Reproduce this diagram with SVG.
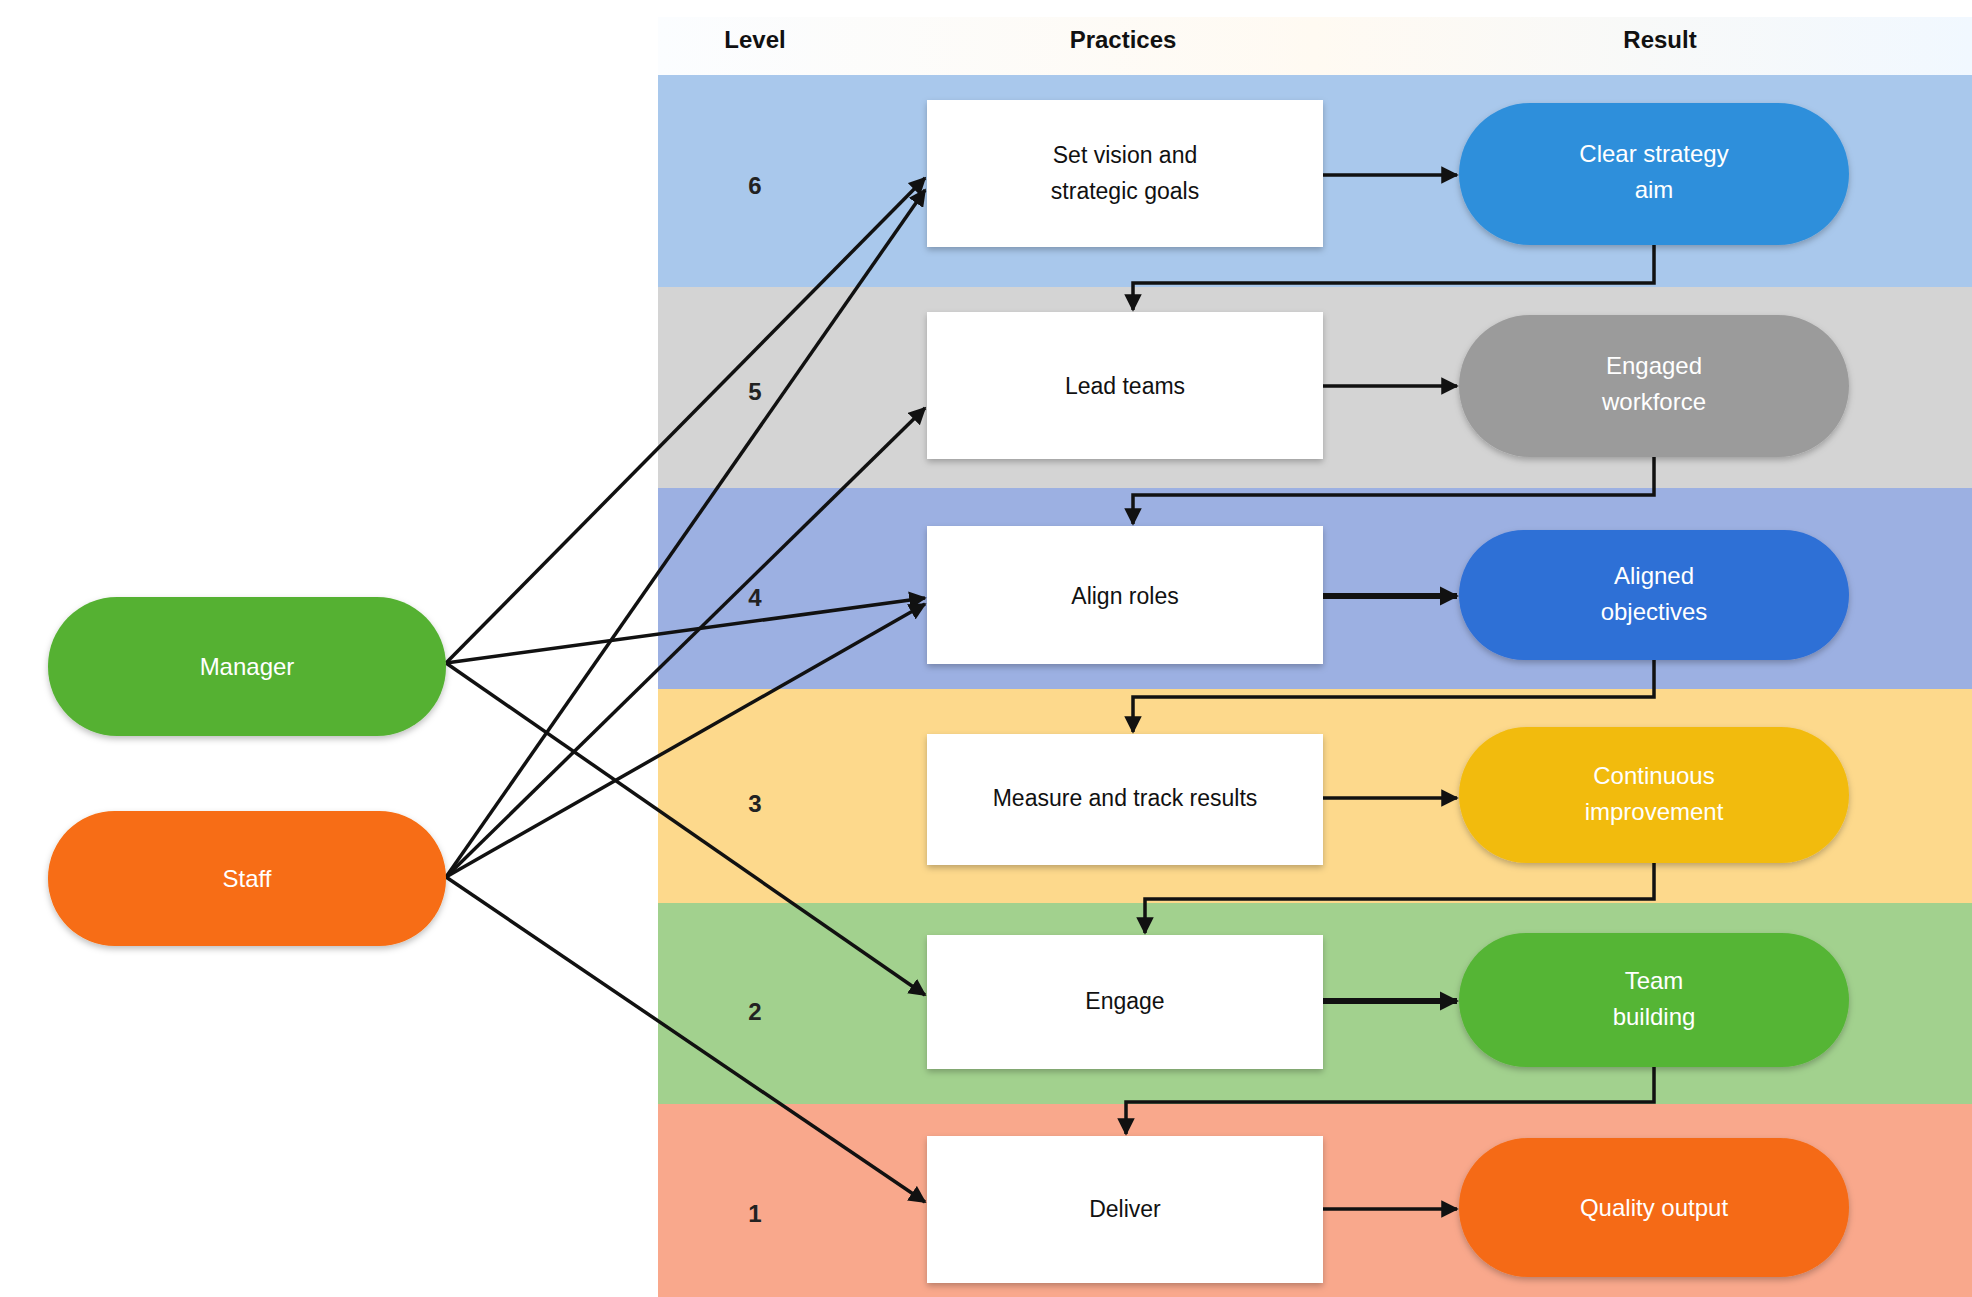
<svg xmlns="http://www.w3.org/2000/svg" width="1972" height="1297" viewBox="0 0 1972 1297">
<defs>
<marker id="ah" viewBox="0 0 10 10" refX="9" refY="5" markerWidth="5" markerHeight="5" orient="auto-start-reverse" markerUnits="strokeWidth"><path d="M0,0 L10,5 L0,10 z" fill="#111"/></marker>
<marker id="ah2" viewBox="0 0 10 10" refX="9" refY="5" markerWidth="3.2" markerHeight="3.2" orient="auto" markerUnits="strokeWidth"><path d="M0,0 L10,5 L0,10 z" fill="#111"/></marker>
<filter id="sh" x="-10%" y="-10%" width="120%" height="130%"><feDropShadow dx="0" dy="3" stdDeviation="3" flood-color="#000" flood-opacity="0.25"/></filter>
<linearGradient id="hd" x1="0" y1="0" x2="1" y2="0"><stop offset="0" stop-color="#fbfdff"/><stop offset="0.5" stop-color="#fffaf2"/><stop offset="1" stop-color="#f1f8ff"/></linearGradient>
</defs>
<style>
.hdr{font-family:"Liberation Sans",Arial,sans-serif;font-size:24px;font-weight:bold;fill:#111;text-anchor:middle}
.lvl{font-family:"Liberation Sans",Arial,sans-serif;font-size:24px;font-weight:bold;fill:#222;text-anchor:middle}
.bt{font-family:"Liberation Sans",Arial,sans-serif;font-size:23px;fill:#111;text-anchor:middle}
.pt{font-family:"Liberation Sans",Arial,sans-serif;font-size:24px;fill:#fff;text-anchor:middle}
.box{fill:#fff;filter:url(#sh)}
.pill{filter:url(#sh)}
.arr{stroke:#111;stroke-width:3.5;fill:none;marker-end:url(#ah)}
.arrb{stroke:#111;stroke-width:6;fill:none;marker-end:url(#ah2)}
</style>
<rect width="1972" height="1297" fill="#fff"/>
<g id="bands">
<rect x="658" y="17" width="1314" height="58" fill="url(#hd)"/>
<rect x="658" y="75" width="1314" height="212" fill="#a9c8ec"/>
<rect x="658" y="287" width="1314" height="201" fill="#d4d4d4"/>
<rect x="658" y="488" width="1314" height="201" fill="#9cb0e2"/>
<rect x="658" y="689" width="1314" height="214" fill="#fdd98c"/>
<rect x="658" y="903" width="1314" height="201" fill="#a2d18e"/>
<rect x="658" y="1104" width="1314" height="193" fill="#f9a88c"/>
</g>
<g id="headers">
<text class="hdr" x="755" y="48">Level</text>
<text class="hdr" x="1123" y="48">Practices</text>
<text class="hdr" x="1660" y="48">Result</text>
</g>
<g id="levels">
<text class="lvl" x="755" y="194">6</text>
<text class="lvl" x="755" y="400">5</text>
<text class="lvl" x="755" y="606">4</text>
<text class="lvl" x="755" y="812">3</text>
<text class="lvl" x="755" y="1020">2</text>
<text class="lvl" x="755" y="1222">1</text>
</g>
<g id="connectors">
<line class="arr" x1="446" y1="663" x2="925" y2="178"/>
<line class="arr" x1="446" y1="663" x2="925" y2="598"/>
<line class="arr" x1="446" y1="663" x2="925" y2="995"/>
<line class="arr" x1="446" y1="877" x2="925" y2="190"/>
<line class="arr" x1="446" y1="877" x2="925" y2="408"/>
<line class="arr" x1="446" y1="877" x2="925" y2="604"/>
<line class="arr" x1="446" y1="877" x2="925" y2="1202"/>
<line class="arr" x1="1323" y1="175" x2="1457" y2="175"/>
<line class="arr" x1="1323" y1="386" x2="1457" y2="386"/>
<line class="arrb" x1="1323" y1="596" x2="1457" y2="596"/>
<line class="arr" x1="1323" y1="798" x2="1457" y2="798"/>
<line class="arrb" x1="1323" y1="1001" x2="1457" y2="1001"/>
<line class="arr" x1="1323" y1="1209" x2="1457" y2="1209"/>
<polyline class="arr" points="1654,245 1654,283 1133,283 1133,310"/>
<polyline class="arr" points="1654,457 1654,495 1133,495 1133,524"/>
<polyline class="arr" points="1654,660 1654,697 1133,697 1133,732"/>
<polyline class="arr" points="1654,863 1654,899 1145,899 1145,933"/>
<polyline class="arr" points="1654,1067 1654,1102 1126,1102 1126,1134"/>
</g>
<g id="n-manager"><rect class="pill" x="48" y="597" width="398" height="139" rx="69" fill="#54b132"/><text class="pt" x="247" y="675">Manager</text></g>
<g id="n-staff"><rect class="pill" x="48" y="811" width="398" height="135" rx="67" fill="#f76d12"/><text class="pt" x="247" y="887">Staff</text></g>
<g id="p1"><rect class="box" x="927" y="100" width="396" height="147"/><text class="bt" x="1125" y="163">Set vision and</text><text class="bt" x="1125" y="199">strategic goals</text></g>
<g id="p2"><rect class="box" x="927" y="312" width="396" height="147"/><text class="bt" x="1125" y="394">Lead teams</text></g>
<g id="p3"><rect class="box" x="927" y="526" width="396" height="138"/><text class="bt" x="1125" y="604">Align roles</text></g>
<g id="p4"><rect class="box" x="927" y="734" width="396" height="131"/><text class="bt" x="1125" y="806">Measure and track results</text></g>
<g id="p5"><rect class="box" x="927" y="935" width="396" height="134"/><text class="bt" x="1125" y="1009">Engage</text></g>
<g id="p6"><rect class="box" x="927" y="1136" width="396" height="147"/><text class="bt" x="1125" y="1217">Deliver</text></g>
<g id="r1"><rect class="pill" x="1459" y="103" width="390" height="142" rx="71" fill="#2f8fdb"/><text class="pt" x="1654" y="162">Clear strategy</text><text class="pt" x="1654" y="198">aim</text></g>
<g id="r2"><rect class="pill" x="1459" y="315" width="390" height="142" rx="71" fill="#9b9b9b"/><text class="pt" x="1654" y="374">Engaged</text><text class="pt" x="1654" y="410">workforce</text></g>
<g id="r3"><rect class="pill" x="1459" y="530" width="390" height="130" rx="65" fill="#2e6fd6"/><text class="pt" x="1654" y="584">Aligned</text><text class="pt" x="1654" y="620">objectives</text></g>
<g id="r4"><rect class="pill" x="1459" y="727" width="390" height="136" rx="68" fill="#f2bb0c"/><text class="pt" x="1654" y="784">Continuous</text><text class="pt" x="1654" y="820">improvement</text></g>
<g id="r5"><rect class="pill" x="1459" y="933" width="390" height="134" rx="67" fill="#55b535"/><text class="pt" x="1654" y="989">Team</text><text class="pt" x="1654" y="1025">building</text></g>
<g id="r6"><rect class="pill" x="1459" y="1138" width="390" height="139" rx="69" fill="#f56b14"/><text class="pt" x="1654" y="1216">Quality output</text></g>
</svg>
